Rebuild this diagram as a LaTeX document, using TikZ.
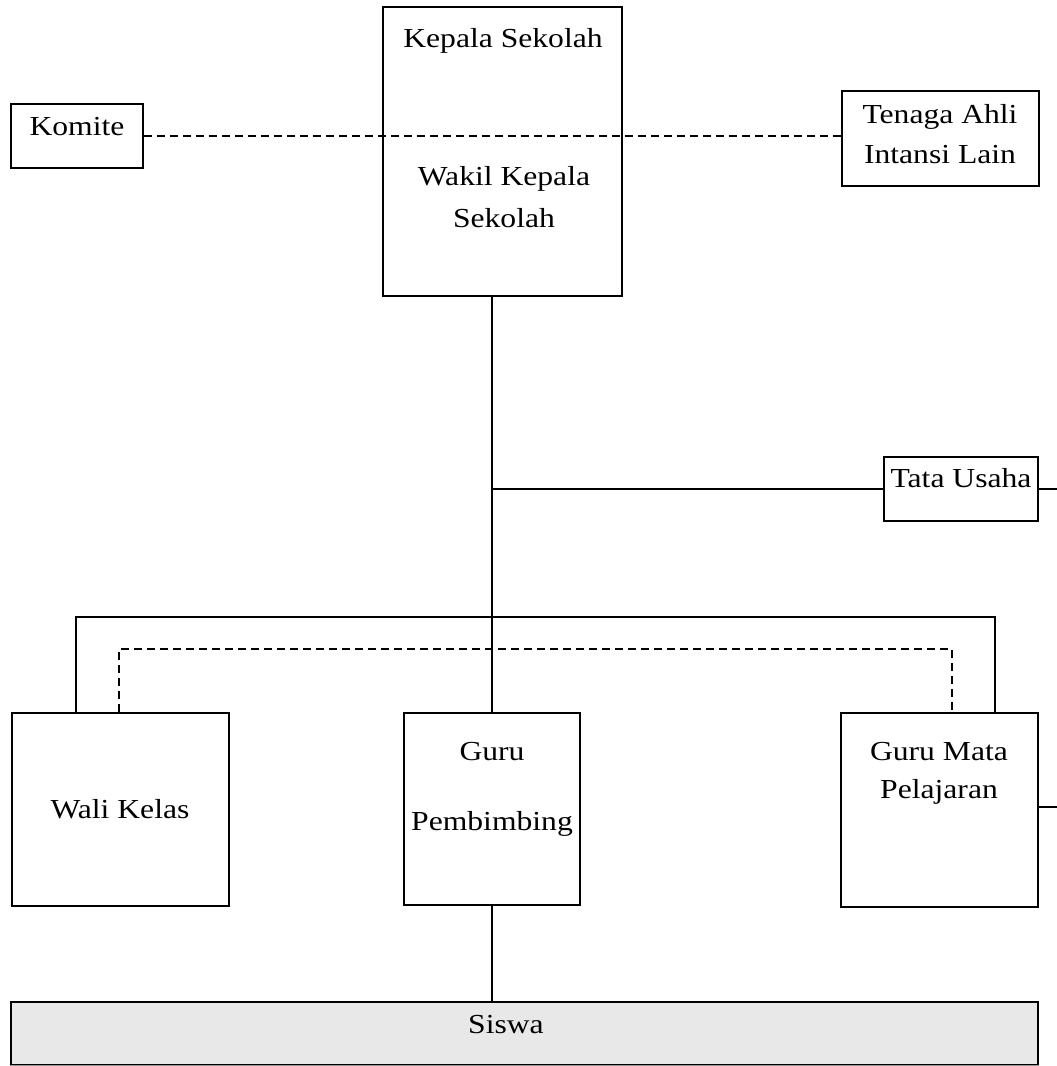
\documentclass[tikz,border=0pt]{standalone}
\usepackage{fontspec}
\setmainfont{Liberation Serif}[FakeStretch=1.15]
\usetikzlibrary{calc}
\definecolor{siswafill}{RGB}{232,232,232}
\definecolor{siswaedge}{RGB}{150,150,150}
\begin{document}
\begin{tikzpicture}[x=1pt,y=-1pt,
  box/.style={draw,line width=1.8pt,inner sep=0pt,fill=white},
  lbl/.style={anchor=base,inner sep=0pt,font=\fontsize{27.5}{33}\selectfont},
  link/.style={line width=1.8pt},
  dlink/.style={line width=1.8pt,dash pattern=on 8pt off 5pt}]
\useasboundingbox (0,0) rectangle (1057,1066);

% boxes
\node[box,minimum width=239pt,minimum height=289pt] (kepala) at (502.5,151.5) {};
\node[box,minimum width=132pt,minimum height=64pt] (komite) at (77,136) {};
\node[box,minimum width=197pt,minimum height=95pt] (tenaga) at (940.5,138.5) {};
\node[box,minimum width=154pt,minimum height=64pt] (tu) at (961,489) {};
\node[box,minimum width=217pt,minimum height=193pt] (wk) at (120.5,809.5) {};
\node[box,minimum width=176pt,minimum height=192pt] (gp) at (492,809) {};
\node[box,minimum width=197pt,minimum height=194pt] (gm) at (939.5,810) {};
\node[box,fill=siswafill,minimum width=1027pt,minimum height=63pt] (siswa) at (524.5,1033.5) {};
\draw[siswaedge,line width=1.8pt] (siswa.south west) -- (siswa.south east);

% connectors
\draw[dlink] (komite.east) -- (tenaga.west |- komite.east);
\draw[link] (gp.north) -- (gp.north |- kepala.south);
\coordinate (tujunc) at (gp.north |- tu.west);
\draw[link] (tujunc) -- (tu.west);
\coordinate (tuout) at (1057,489);
\draw[link] (tu.east) -- (tuout);
\coordinate (gmout) at (1057,807);
\draw[link] (gm.east |- gmout) -- (gmout);
\coordinate (solidlvl) at (0,617);
\coordinate (dashlvl) at (0,649);
\draw[link] ([xshift=65pt]wk.north west) |- (solidlvl -| gp.north) -| ([xshift=-44pt]gm.north east);
\draw[dlink] ([xshift=108pt]wk.north west) |- (dashlvl -| gp.north) -| ([xshift=-87pt]gm.north east);
\draw[link] (gp.south) -- (gp.south |- siswa.north);

% texts
\node[lbl] (t1) at (503,47) {Kepala Sekolah};
\node[lbl] (t2) at (504,185) {Wakil Kepala};
\node[lbl] (t3) at (504,227) {Sekolah};
\node[lbl] (t4) at (77,135) {Komite};
\node[lbl] (t5) at (940,123) {Tenaga Ahli};
\node[lbl] (t6) at (940,163) {Intansi Lain};
\node[lbl] (t7) at (961,487) {Tata Usaha};
\node[lbl] (t8) at (120,818) {Wali Kelas};
\node[lbl] (t9) at (492,760) {Guru};
\node[lbl] (t10) at (492,830) {Pembimbing};
\node[lbl] (t11) at (939,760) {Guru Mata};
\node[lbl] (t12) at (939,798) {Pelajaran};
\node[lbl] (t13) at (506,1033) {Siswa};
\end{tikzpicture}
\end{document}
